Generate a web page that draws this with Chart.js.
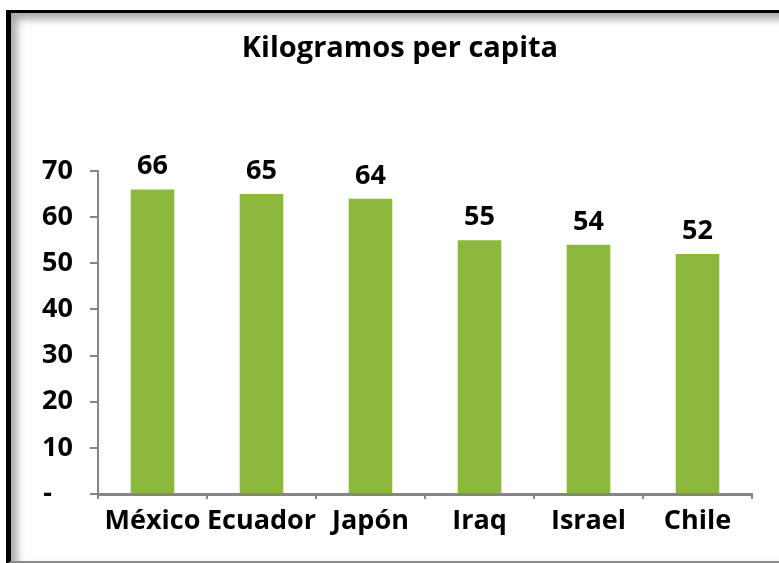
<!DOCTYPE html>
<html lang="es">
<head>
    <meta charset="UTF-8">
    <title>Kilogramos per capita</title>
    <script src="https://cdn.jsdelivr.net/npm/chart.js"></script>
    <style>
        body {
            margin: 0;
            width: 779px;
            height: 563px;
            overflow: hidden;
            background: #fff;
            font-family: "Open Sans", sans-serif;
        }
        .frame {
            position: absolute;
            left: 6px;
            top: 10px;
            width: 800px;
            height: 548px;
            border-top: 3px solid #000;
            border-left: 5px solid #000;
            border-bottom: 3px solid #8a8a8a;
            box-shadow: inset 6px 6px 8px rgba(0, 0, 0, 0.35);
            background: #fff;
        }
        canvas {
            position: absolute;
            left: 0;
            top: 0;
        }
    </style>
</head>
<body>
<div class="frame"></div>
<canvas id="chart" width="779" height="563"></canvas>

<script>
    const chartTitle = 'Kilogramos per capita';
    const countries = ['México', 'Ecuador', 'Japón', 'Iraq', 'Israel', 'Chile'];
    const kilos = [66, 65, 64, 55, 54, 52];
    const yTicks = [0, 10, 20, 30, 40, 50, 60, 70];

    const axisGray = '#868686';
    const barGreen = '#8cb83e';

    // title sits a bit right of the canvas centre, so it is drawn by hand
    const titleText = {
        id: 'titleText',
        afterDraw(chart) {
            const ctx = chart.ctx;
            ctx.save();
            ctx.font = 'bold 29px "Open Sans"';
            ctx.fillStyle = '#000';
            ctx.textAlign = 'center';
            ctx.textBaseline = 'alphabetic';
            ctx.fillText(chartTitle, 400, 57);
            ctx.restore();
        }
    };

    // draw the value above each bar
    const valueLabels = {
        id: 'valueLabels',
        afterDatasetsDraw(chart) {
            const ctx = chart.ctx;
            const meta = chart.getDatasetMeta(0);
            ctx.save();
            ctx.font = 'bold 27px "Open Sans"';
            ctx.fillStyle = '#000';
            ctx.textAlign = 'center';
            ctx.textBaseline = 'alphabetic';
            meta.data.forEach((bar, i) => {
                ctx.fillText(String(kilos[i]), bar.x, bar.y - 15);
            });
            ctx.restore();
        }
    };

    new Chart(document.getElementById('chart').getContext('2d'), {
        type: 'bar',
        data: {
            labels: countries,
            datasets: [{
                label: chartTitle,
                data: kilos,
                backgroundColor: barGreen,
                borderWidth: 0,
                barPercentage: 0.4,
                categoryPercentage: 1.0
            }]
        },
        options: {
            responsive: false,
            animation: false,
            layout: { padding: { left: 0, right: 27, top: 171, bottom: 0 } },
            plugins: {
                legend: { display: false },
                tooltip: { enabled: false },
                title: { display: false }
            },
            scales: {
                x: {
                    offset: true,
                    grid: {
                        offset: true,
                        drawOnChartArea: false,
                        drawTicks: true,
                        tickLength: 5,
                        color: axisGray,
                        lineWidth: 2
                    },
                    border: { color: axisGray, width: 3 },
                    ticks: {
                        color: '#000',
                        font: { family: '"Open Sans"', size: 27, weight: 'bold' },
                        padding: 6,
                        autoSkip: false,
                        maxRotation: 0,
                        minRotation: 0
                    },
                    afterFit(scale) { scale.height = 69; }
                },
                y: {
                    min: 0,
                    max: 70,
                    afterBuildTicks(scale) {
                        scale.ticks = yTicks.map(v => ({ value: v }));
                    },
                    grid: {
                        drawOnChartArea: false,
                        drawTicks: true,
                        tickLength: 8,
                        color: axisGray,
                        lineWidth: 2
                    },
                    border: { color: axisGray, width: 2 },
                    ticks: {
                        color: '#000',
                        font: { family: '"Open Sans"', size: 27, weight: 'bold' },
                        padding: 17,
                        callback: v => (v === 0 ? '-   ' : v)
                    },
                    afterFit(scale) { scale.width = 98; }
                }
            }
        },
        plugins: [valueLabels, titleText]
    });
</script>
</body>
</html>
